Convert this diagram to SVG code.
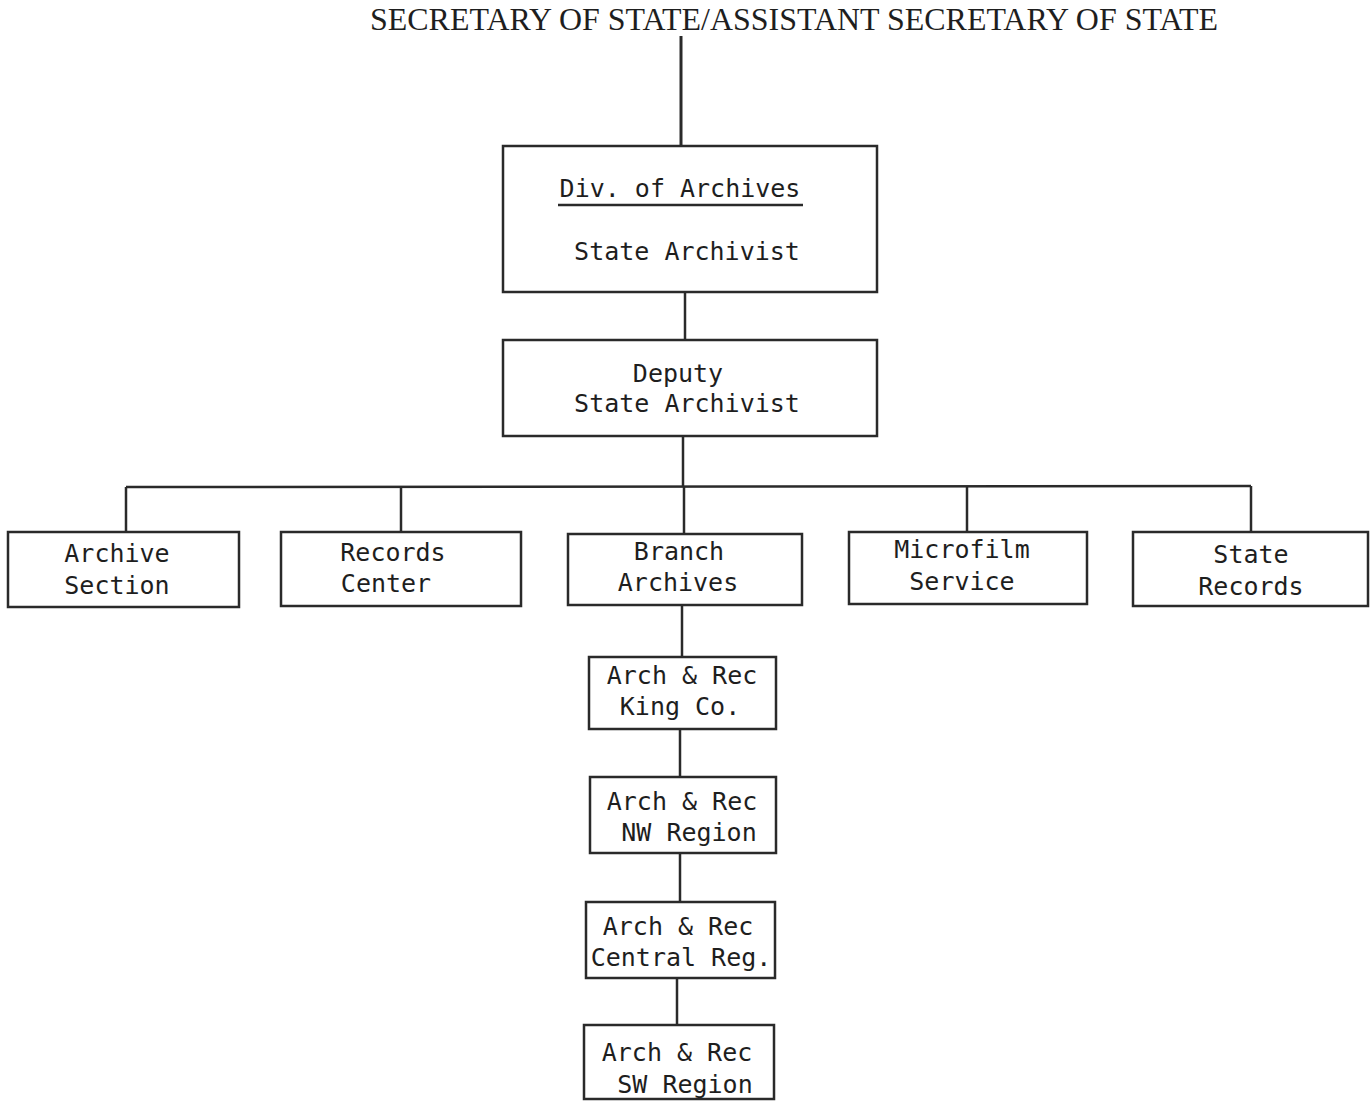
<svg xmlns="http://www.w3.org/2000/svg" width="1370" height="1101" viewBox="0 0 1370 1101">
<style>
.box{fill:none;stroke:#2a2a2a;stroke-width:2.5}
.ln{stroke:#2a2a2a;stroke-width:2.5;fill:none}
.t{font-family:"DejaVu Sans Mono","Liberation Mono",monospace;font-size:25px;fill:#1e1e1e;text-anchor:middle}
.title{font-family:"Liberation Serif","Times New Roman",serif;font-size:31px;fill:#1e1e1e}
</style>
<rect width="1370" height="1101" fill="#ffffff"/>
<text class="title" x="370" y="30" textLength="848" lengthAdjust="spacingAndGlyphs">SECRETARY OF STATE/ASSISTANT SECRETARY OF STATE</text>
<g id="connectors">
<line class="ln" x1="681" y1="36" x2="681" y2="146" style="stroke-width:3"/>
<line class="ln" x1="685" y1="292" x2="685" y2="340"/>
<line class="ln" x1="683" y1="436" x2="683" y2="487"/>
<line class="ln" x1="126" y1="487" x2="1251" y2="486"/>
<line class="ln" x1="126" y1="487" x2="126" y2="532"/>
<line class="ln" x1="401" y1="487" x2="401" y2="532"/>
<line class="ln" x1="684" y1="487" x2="684" y2="534"/>
<line class="ln" x1="967" y1="487" x2="967" y2="532"/>
<line class="ln" x1="1251" y1="486" x2="1251" y2="532"/>
<line class="ln" x1="682" y1="605" x2="682" y2="657"/>
<line class="ln" x1="680" y1="729" x2="680" y2="777"/>
<line class="ln" x1="680" y1="853" x2="680" y2="902"/>
<line class="ln" x1="677" y1="978" x2="677" y2="1025"/>
</g>
<g id="div-archives">
<rect class="box" x="503" y="146" width="374" height="146"/>
<text class="t" x="680" y="197">Div. of Archives</text>
<line class="ln" x1="558" y1="205" x2="803" y2="205"/>
<text class="t" x="687" y="260">State Archivist</text>
</g>
<g id="deputy">
<rect class="box" x="503" y="340" width="374" height="96"/>
<text class="t" x="678" y="382">Deputy</text>
<text class="t" x="687" y="412">State Archivist</text>
</g>
<g id="archive-section">
<rect class="box" x="8" y="532" width="231" height="75"/>
<text class="t" x="117" y="562">Archive</text>
<text class="t" x="117" y="594">Section</text>
</g>
<g id="records-center">
<rect class="box" x="281" y="532" width="240" height="74"/>
<text class="t" x="393" y="561">Records</text>
<text class="t" x="386" y="592">Center</text>
</g>
<g id="branch-archives">
<rect class="box" x="568" y="534" width="234" height="71"/>
<text class="t" x="679" y="560">Branch</text>
<text class="t" x="678" y="591">Archives</text>
</g>
<g id="microfilm-service">
<rect class="box" x="849" y="532" width="238" height="72"/>
<text class="t" x="962" y="558">Microfilm</text>
<text class="t" x="962" y="590">Service</text>
</g>
<g id="state-records">
<rect class="box" x="1133" y="532" width="235" height="74"/>
<text class="t" x="1251" y="563">State</text>
<text class="t" x="1251" y="595">Records</text>
</g>
<g id="king-co">
<rect class="box" x="589" y="657" width="187" height="72"/>
<text class="t" x="682" y="684">Arch &amp; Rec</text>
<text class="t" x="680" y="715">King Co.</text>
</g>
<g id="nw-region">
<rect class="box" x="590" y="777" width="186" height="76"/>
<text class="t" x="682" y="810">Arch &amp; Rec</text>
<text class="t" x="689" y="841">NW Region</text>
</g>
<g id="central-reg">
<rect class="box" x="586" y="902" width="189" height="76"/>
<text class="t" x="678" y="935">Arch &amp; Rec</text>
<text class="t" x="681" y="966">Central Reg.</text>
</g>
<g id="sw-region">
<rect class="box" x="584" y="1025" width="190" height="74"/>
<text class="t" x="677" y="1061">Arch &amp; Rec</text>
<text class="t" x="685" y="1093">SW Region</text>
</g>
</svg>
